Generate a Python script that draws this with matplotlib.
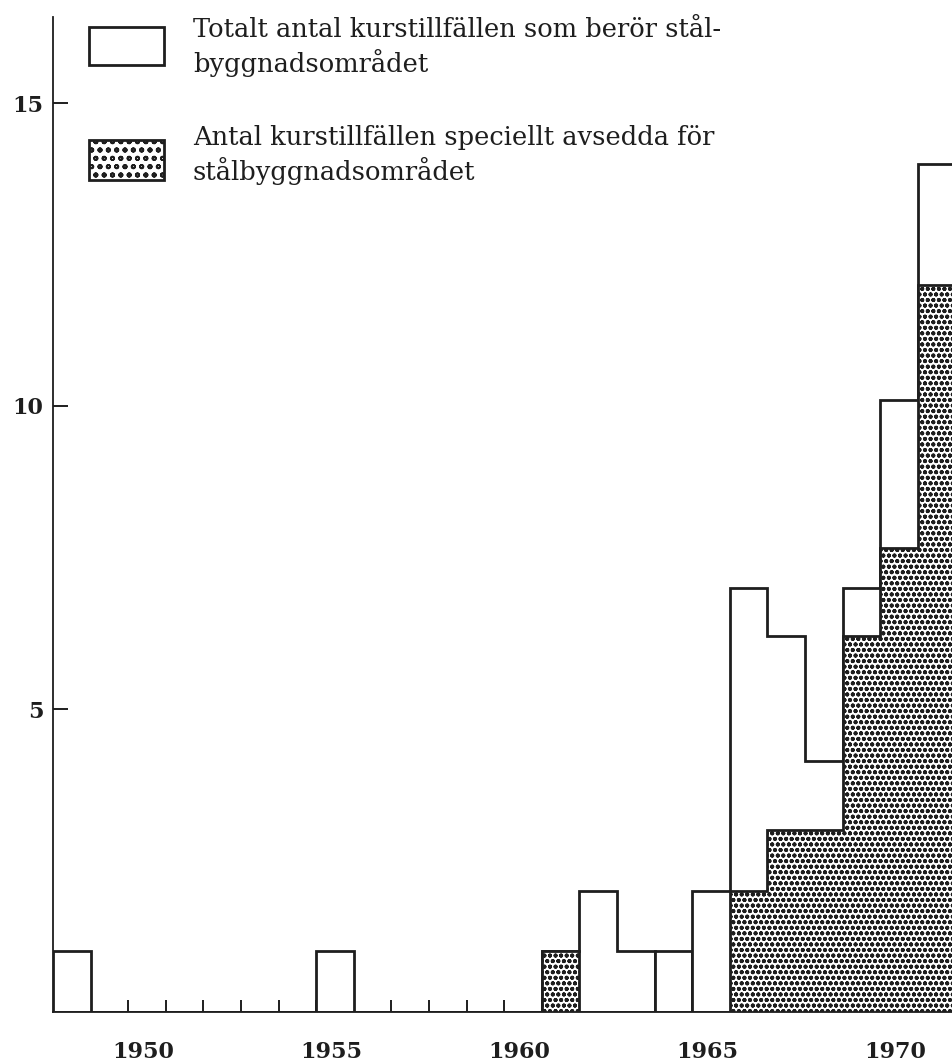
import numpy as np
import matplotlib.pyplot as plt
from matplotlib.patches import Rectangle

years = np.arange(1948, 1972)
total = [1, 0, 0, 0, 0, 0, 0, 1, 0, 0, 0, 0, 0,
         1, 2, 1, 1, 2, 7, 6.2, 4.15, 7, 10.1, 14]
special = [0, 0, 0, 0, 0, 0, 0, 0, 0, 0, 0, 0, 0,
           1, 0, 0, 0, 0, 2, 3, 3, 6.2, 7.65, 12]
year_labels = [1950, 1955, 1960, 1965, 1970]
y_ticks = [5, 10, 15]
label_total = ["Totalt antal kurstillfällen som berör stål-", "byggnadsområdet"]
label_special = ["Antal kurstillfällen speciellt avsedda för", "stålbyggnadsområdet"]

ink = '#1e1e1e'
plt.rcParams['hatch.linewidth'] = 1.3
W, H = 952, 1063
fig = plt.figure(figsize=(W / 100, H / 100), dpi=100)
ax = fig.add_axes([53 / W, 51 / H, 1 - 53 / W, (H - 17 - 51) / H])

edges = np.append(years, years[-1] + 1)
total = np.array(total)
special = np.array(special)

# the 1964 box is drawn on its own in the original
cuts = [0, 16, 17, len(total)]
for a, b in zip(cuts[:-1], cuts[1:]):
    ax.stairs(total[a:b], edges[a:b + 1], fill=True, facecolor='white',
              edgecolor=ink, lw=2)
ax.stairs(special, edges, fill=True, facecolor='white', edgecolor=ink,
          hatch='ooo', lw=2)

ax.set_xlim(1948, 1948 + 899 / 37.6)
ax.set_ylim(0, 995 / 60.6)
ax.set_axisbelow(True)

for s in ['top', 'right']:
    ax.spines[s].set_visible(False)
for s in ['left', 'bottom']:
    ax.spines[s].set_linewidth(1.3)
    ax.spines[s].set_color(ink)

ax.set_yticks(y_ticks)
ax.set_yticklabels([str(v) for v in y_ticks], fontfamily='DejaVu Serif',
                   fontweight='bold', fontsize=16, color=ink)
ax.tick_params(axis='y', direction='in', length=11, width=1.4, pad=7, colors=ink)

ax.set_xticks([y + 0.4 for y in year_labels])
ax.set_xticklabels([str(y) for y in year_labels], fontfamily='DejaVu Serif',
                   fontweight='bold', fontsize=16, color=ink)
ax.tick_params(axis='x', which='major', length=0, pad=21)
ax.set_xticks(years[1:], minor=True)
ax.tick_params(axis='x', which='minor', direction='in', length=9, width=1.4,
               colors=ink)

# legend drawn by hand
fig.patches.append(Rectangle((89 / W, 1 - 65 / H), 75 / W, 38 / H,
                             transform=fig.transFigure, facecolor='white',
                             edgecolor=ink, lw=2))
fig.patches.append(Rectangle((89 / W, 1 - 180 / H), 75 / W, 40 / H,
                             transform=fig.transFigure, facecolor='white',
                             edgecolor=ink, lw=2, hatch='oo'))
for lines, base in [(label_total, 37), (label_special, 145)]:
    for i, line in enumerate(lines):
        fig.text(193 / W, 1 - (base + 35 * i) / H, line, fontfamily='DejaVu Serif',
                 fontsize=18.5, color=ink, va='baseline', ha='left')

fig.savefig('out.png', dpi=100, facecolor='white')
